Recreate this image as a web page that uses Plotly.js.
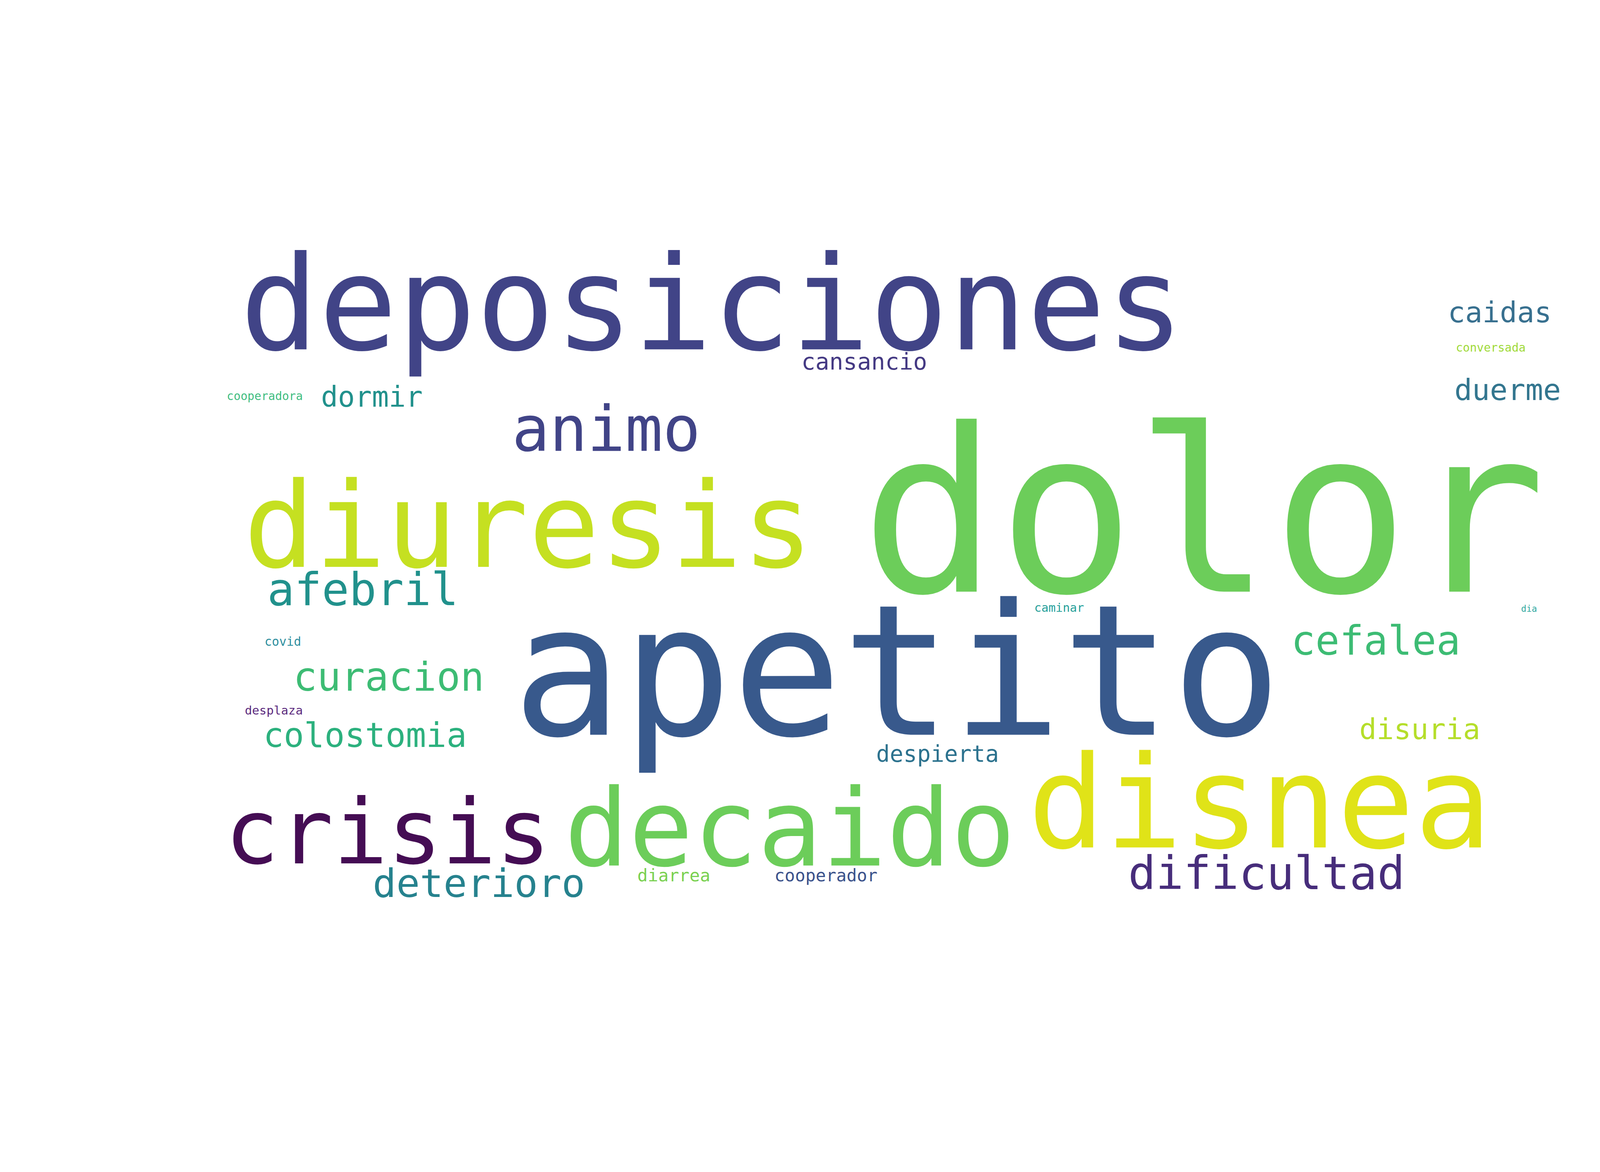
<!DOCTYPE html>
<html>
<head>
<meta charset="utf-8">
<script src="https://cdn.plot.ly/plotly-3.0.1.min.js"></script>
<style>
  html, body { margin: 0; padding: 0; background: #fff; }
  #graph { width: 4500px; height: 3000px; }
</style>
</head>
<body>
<div id="graph"></div>
<script>
// words and their weights (relative frequency)
const words = ['dolor', 'apetito', 'deposiciones', 'disnea', 'diuresis', 'decaido', 'crisis',
    'animo', 'dificultad', 'afebril', 'cefalea', 'curacion', 'deterioro', 'colostomia',
    'duerme', 'caidas', 'disuria', 'dormir', 'cansancio', 'despierta', 'diarrea', 'cooperador',
    'covid', 'desplaza', 'caminar', 'conversada', 'cooperadora', 'dia']
const weights = [202, 162, 116, 114, 105, 95, 80,
    55.6, 40.8, 40.3, 35.7, 35.2, 34.8, 30,
    26.2, 25.5, 25.5, 25, 20.6, 20.1, 15.4, 15.2,
    10.8, 10.7, 10.5, 10.3, 10.2, 7.8]

// where the cloud layout put each word: centre x and baseline y (cloud units)
const placeX = [1068, 796, 632, 1118, 469, 701, 344,
    538, 1124, 322, 1221, 345, 425, 324,
    1338, 1331, 1260, 330, 767, 832, 598, 733,
    251, 243, 940, 1323, 235, 1357]
const placeY = [525, 652, 310, 752, 503, 768, 766,
    400, 789, 537, 581, 613, 796, 663,
    355, 286, 656, 361, 328, 676, 782, 782,
    573, 634, 543, 312, 355, 543]

const colors = ['#6ccd5a', '#38598c', '#414487', '#e0e318', '#c5e021', '#6ccd5a', '#450d54',
    '#414487', '#472d7b', '#21918c', '#3dbc74', '#3dbc74', '#26828e', '#2cb17e',
    '#33768f', '#38708f', '#b5de2b', '#21918c', '#443983', '#2c728e', '#7ad151', '#3b528b',
    '#2e8fa0', '#5b2a7e', '#26a09a', '#a0da39', '#40bd80', '#30a8a0']

const cloudW = 1560
const cloudH = 1040
const pxPerUnit = 4500 / cloudW

// middle-anchored text sits its baseline about a quarter em below the anchor
let anchorY = placeY.map((b, i) => b - 0.25 * weights[i])
let sizes = weights.map(w => w * pxPerUnit)

let data = [
    {
        type: 'scatter',
        mode: 'text',
        x: placeX,
        y: anchorY,
        text: words,
        textposition: 'middle center',
        textfont: {
            family: '"DejaVu Sans Mono", monospace',
            size: sizes,
            color: colors
        },
        hoverinfo: 'text',
        showlegend: false
    }
]

let hidden = {
    visible: false,
    showgrid: false,
    zeroline: false,
    fixedrange: true
}

let layout = {
    width: 4500,
    height: 3000,
    margin: {l: 0, r: 0, t: 0, b: 0},
    paper_bgcolor: '#ffffff',
    plot_bgcolor: '#ffffff',
    xaxis: Object.assign({range: [0, cloudW]}, hidden),
    yaxis: Object.assign({range: [cloudH, 0]}, hidden)
}

Plotly.newPlot('graph', data, layout, {staticPlot: true})
</script>
</body>
</html>
